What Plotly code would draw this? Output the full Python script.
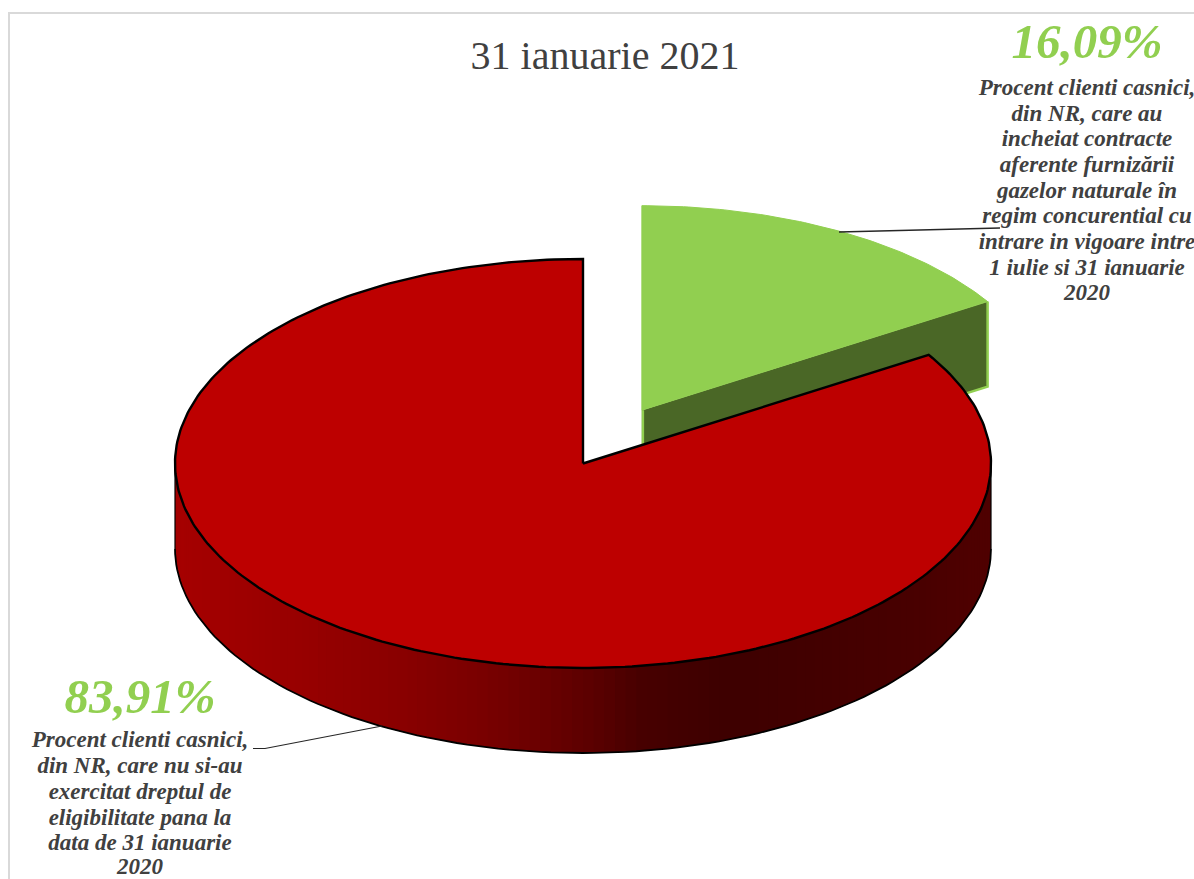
import numpy as np
import plotly.graph_objects as go

# ---- data ----
categories = ["clienti care nu si-au exercitat dreptul", "clienti cu contracte in regim concurential"]
values = [83.91, 16.09]
percent_labels = ["83,91%", "16,09%"]
title_text = "31 ianuarie 2021"
red_lines = ["Procent clienti casnici,", "din NR, care nu si-au", "exercitat dreptul de",
             "eligibilitate pana la", "data de 31 ianuarie", "2020"]
green_lines = ["Procent clienti casnici,", "din NR, care au", "incheiat contracte",
               "aferente furnizării", "gazelor naturale în", "regim concurential cu",
               "intrare in vigoare intre", "1 iulie si 31 ianuarie", "2020"]
red_line_y = [741, 767, 793, 819, 844, 868]
green_line_y = [89, 115, 140, 166, 192, 217, 243, 269, 294]

# ---- pie geometry / style ----
CX, CY, RX, RY, DEPTH = 583.0, 463.5, 408.0, 204.5, 85.0
EXPLODE = 0.298
RED, GREEN, GREEN_DARK = "#bd0000", "#91cf50", "#4a6726"
TEXT = "#404040"
FONT = "Liberation Serif"
shade_x = [175, 300, 400, 480, 560, 600, 640, 720, 800, 900, 991]
shade_r = [166, 152, 138, 122, 102, 88, 72, 62, 66, 72, 80]


def proj(a, ox=0.0, oy=0.0, r=1.0):
    return CX + ox + r * RX * np.sin(a), CY + oy - r * RY * np.cos(a)


fig = go.Figure()


def poly(x, y, fill, line=None, w=0.0):
    fig.add_trace(go.Scatter(x=list(x), y=list(y), mode="lines", fill="toself", fillcolor=fill,
                             line=dict(color=line or fill, width=w), hoverinfo="skip", showlegend=False))


def stroke(x, y, color, w):
    fig.add_trace(go.Scatter(x=list(x), y=list(y), mode="lines", line=dict(color=color, width=w),
                             hoverinfo="skip", showlegend=False))


green_sweep = values[1] / sum(values) * 2 * np.pi
mid = green_sweep / 2
ox, oy = proj(mid, r=EXPLODE)
ox -= CX
oy -= CY

# frame
stroke([9, 9, 1194], [879, 13, 13], "#d9d9d9", 2)

# green slice: cut face, then top
ax, ay = proj(0, ox, oy, 0)
ex, ey = proj(green_sweep, ox, oy)
poly([ax, ex, ex, ax], [ay, ey, ey + DEPTH, ay + DEPTH], GREEN_DARK)
stroke([ax + 1, ax + 1], [ay, ay + DEPTH], GREEN, 2.5)
stroke([ex, ex, ax], [ey, ey + DEPTH, ay + DEPTH], GREEN, 2.5)
t = np.linspace(0, green_sweep, 80)
gx, gy = proj(t, ox, oy)
poly([ax, *gx, ax], [ay, *gy, ay], GREEN, GREEN, 1)

# red slice: shaded rim, each band painted over the tail of the one before it
t = np.linspace(np.pi / 2, 3 * np.pi / 2, 121)
rx_, ry_ = proj(t)
for i in range(len(t) - 1):
    j = min(i + 4, len(t) - 1)
    shade = int(np.interp((rx_[i] + rx_[i + 1]) / 2, shade_x, shade_r))
    seg_x = rx_[i:j + 1]
    seg_y = ry_[i:j + 1]
    poly([*seg_x, *seg_x[::-1]], [*seg_y, *(seg_y[::-1] + DEPTH)], f"rgb({shade},0,0)")
stroke(rx_, ry_ + DEPTH, "#000000", 1.8)
lx, ly = proj(3 * np.pi / 2)
hx, hy = proj(np.pi / 2)
stroke([lx, lx], [ly, ly + DEPTH], "#000000", 1.2)
stroke([hx, hx], [hy, hy + DEPTH], "#000000", 1.2)

# red top
t = np.linspace(green_sweep, 2 * np.pi, 300)
tx, ty = proj(t)
poly([CX, *tx, CX], [CY, *ty, CY], RED, "#000000", 2.4)

# leader lines
stroke([839, 1000], [232, 228], "#262626", 1.4)
stroke([253, 265, 382], [748.5, 748.5, 726], "#262626", 1.2)


def text(xs, ys, labels, size, color, bold=True, italic=True):
    fig.add_trace(go.Scatter(x=xs, y=ys, mode="text", text=labels, textposition="middle center",
                             textfont=dict(family=FONT, size=size, color=color,
                                           weight="bold" if bold else "normal",
                                           style="italic" if italic else "normal"),
                             hoverinfo="skip", showlegend=False, cliponaxis=False))


text([605], [59], [title_text], 40, "#404040", bold=False, italic=False)
text([1087], [46], [percent_labels[1]], 49, GREEN)
text([140], [701], [percent_labels[0]], 49, GREEN)
text([1087] * len(green_lines), green_line_y, green_lines, 23, TEXT)
text([140] * len(red_lines), red_line_y, red_lines, 23, TEXT)

fig.update_layout(width=1194, height=879, margin=dict(l=0, r=0, t=0, b=0),
                  paper_bgcolor="white", plot_bgcolor="white", showlegend=False,
                  xaxis=dict(range=[0, 1194], visible=False, fixedrange=True),
                  yaxis=dict(range=[879, 0], visible=False, fixedrange=True))
fig.write_html("out.html", config=dict(displayModeBar=False),
               post_script="document.body.style.margin='0';document.documentElement.style.overflow='hidden';")
